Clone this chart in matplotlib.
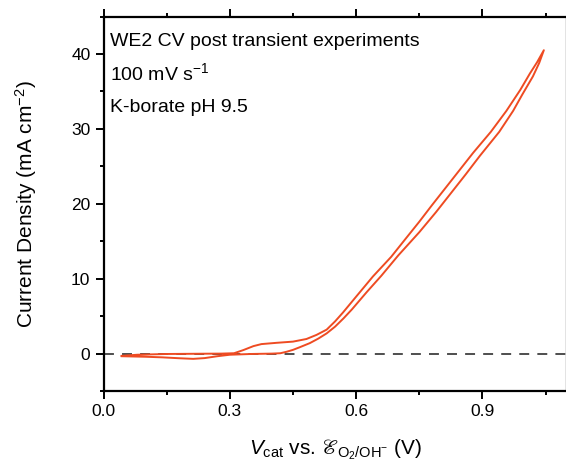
import matplotlib
matplotlib.use("Agg")
import matplotlib.pyplot as plt
from matplotlib.ticker import MultipleLocator

plt.rcParams['font.family'] = ['Liberation Sans', 'DejaVu Sans']
plt.rcParams['mathtext.fontset'] = 'custom'
plt.rcParams['mathtext.rm'] = 'Liberation Sans'
plt.rcParams['mathtext.it'] = 'Liberation Sans:italic'
plt.rcParams['mathtext.bf'] = 'Liberation Sans:bold'
plt.rcParams['mathtext.fallback'] = 'stix'

# Forward (anodic) scan
fwd_v = [0.043, 0.08, 0.15, 0.22, 0.28, 0.31, 0.332, 0.356, 0.375, 0.411, 0.45,
         0.482, 0.506, 0.53, 0.55, 0.569, 0.60, 0.64, 0.683, 0.72, 0.75, 0.78,
         0.815, 0.85, 0.878, 0.92, 0.957, 0.99, 1.013, 1.03, 1.046]
fwd_j = [-0.3, -0.15, -0.05, -0.02, 0.0, 0.05, 0.47, 1.0, 1.27, 1.44, 1.6,
         1.95, 2.5, 3.2, 4.3, 5.5, 7.6, 10.3, 12.9, 15.5, 17.6, 19.8,
         22.3, 24.8, 26.8, 29.6, 32.4, 35.2, 37.4, 38.9, 40.5]
# Reverse (cathodic) scan
rev_v = [1.046, 1.035, 1.02, 0.995, 0.973, 0.94, 0.894, 0.86, 0.825, 0.79, 0.75,
         0.70, 0.66, 0.625, 0.59, 0.57, 0.55, 0.53, 0.51, 0.49, 0.466, 0.45,
         0.435, 0.42, 0.40, 0.35, 0.30, 0.27, 0.24, 0.213, 0.18, 0.14, 0.10, 0.043]
rev_j = [40.5, 38.8, 37.0, 34.6, 32.4, 29.6, 26.4, 23.9, 21.4, 18.9, 16.2,
         13.1, 10.4, 8.2, 5.9, 4.7, 3.6, 2.7, 2.0, 1.4, 0.85, 0.5,
         0.25, 0.05, 0.0, -0.05, -0.15, -0.35, -0.6, -0.7, -0.62, -0.5, -0.42, -0.35]

annotations = ["WE2 CV post transient experiments", "100 mV s$^{-1}$", "K-borate pH 9.5"]

fig = plt.figure(figsize=(5.66, 4.65), dpi=100)
ax = fig.add_axes([0.183, 0.159, 0.818, 0.8055])

line_color = '#EE4B22'
ax.axhline(0, color='#404040', lw=1.3, dashes=(5.5, 4.5), zorder=1)
ax.plot(fwd_v + rev_v[1:], fwd_j + rev_j[1:], color=line_color, lw=1.4, zorder=2)

ax.set_xlim(0, 1.1)
ax.set_ylim(-5, 45)
ax.xaxis.set_major_locator(MultipleLocator(0.3))
ax.xaxis.set_minor_locator(MultipleLocator(0.15))
ax.yaxis.set_major_locator(MultipleLocator(10))
ax.yaxis.set_minor_locator(MultipleLocator(5))
ax.set_xticks([0.0, 0.3, 0.6, 0.9])
ax.set_xticklabels(['0.0', '0.3', '0.6', '0.9'])
ax.set_yticks([0, 10, 20, 30, 40])

for s in ax.spines.values():
    s.set_linewidth(1.6)
ax.tick_params(which='both', direction='out', top=True, right=True, width=1.4,
               labelsize=12.5)
ax.tick_params(which='major', length=6)
ax.tick_params(which='minor', length=3)

ax.set_ylabel('Current Density (mA cm$^{-2}$)', fontsize=15)
ax.yaxis.set_label_coords(-0.14, 0.5)
ax.set_xlabel('$V_{\\mathrm{cat}}$ vs. $ℰ_{\\mathrm{O_2/OH^{-}}}$ (V)', fontsize=15)
ax.xaxis.set_label_coords(0.5, -0.125)

ys = [0.921, 0.830, 0.746]
for t, y in zip(annotations, ys):
    ax.text(0.014, y, t, transform=ax.transAxes, fontsize=14, va='baseline', ha='left')

fig.savefig('out.png', dpi=100)
